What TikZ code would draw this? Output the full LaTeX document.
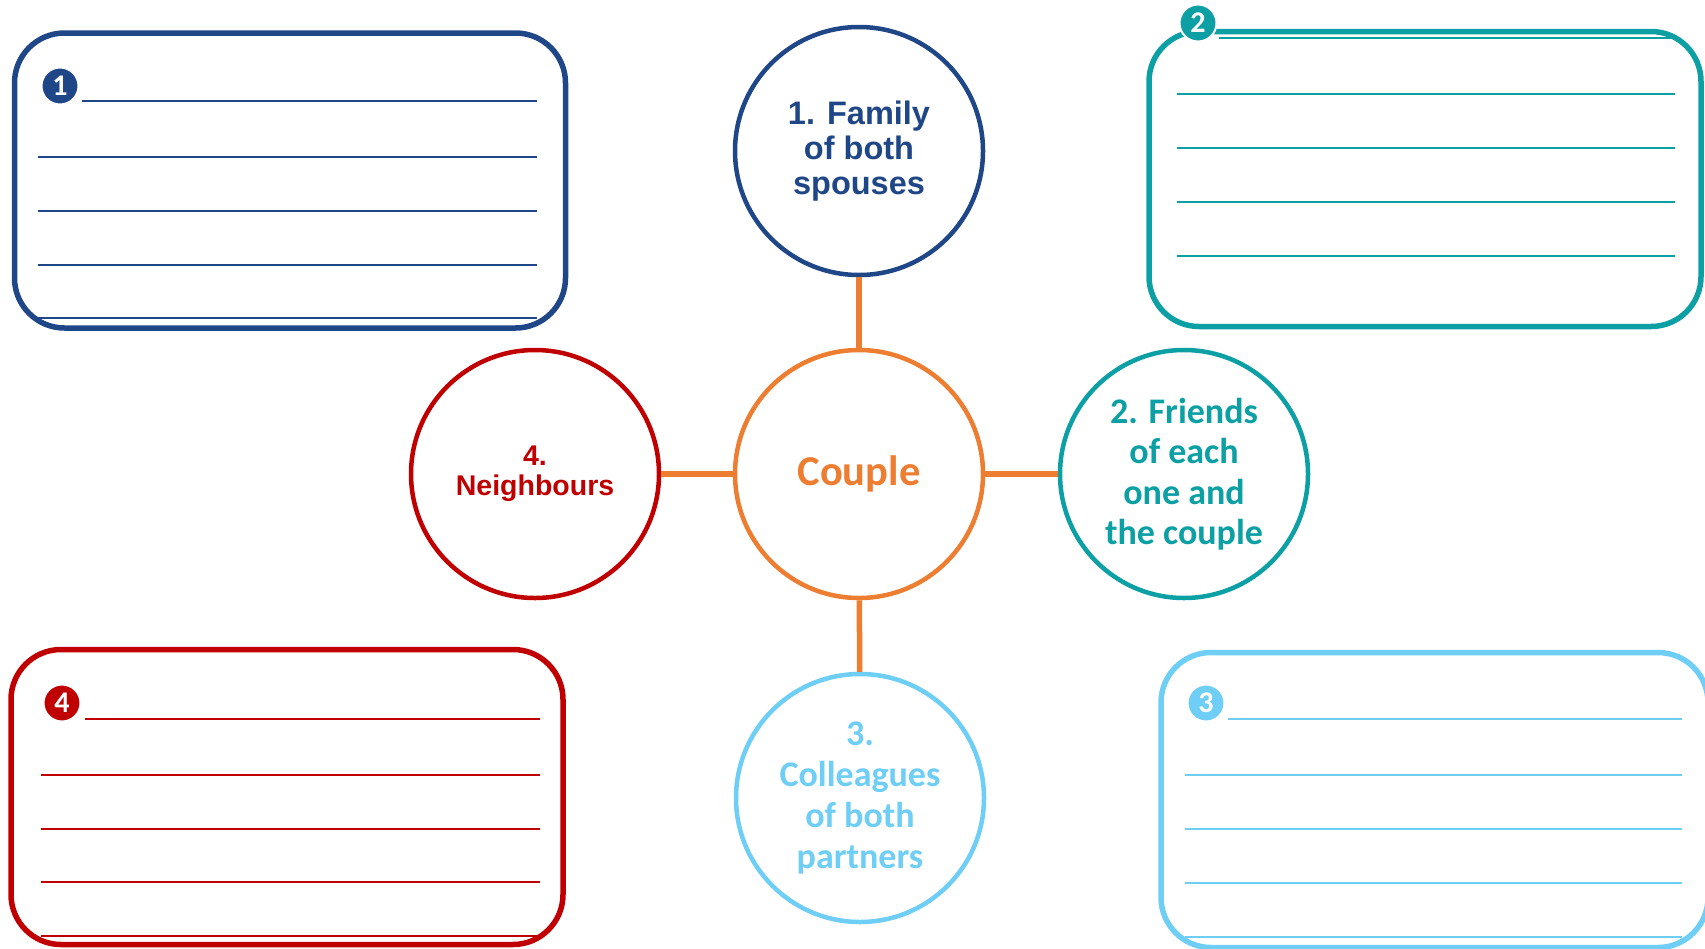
\documentclass[tikz,border=0pt]{standalone}
\usepackage{fontspec}
\setmainfont{Liberation Sans}
\newfontfamily\calfont{Carlito}
\usepackage{tikz}
\usetikzlibrary{positioning,shapes}
\definecolor{navy1}{RGB}{31,71,136}
\definecolor{teal1}{RGB}{12,160,164}
\definecolor{red1}{RGB}{192,0,0}
\definecolor{sky1}{RGB}{110,206,245}
\definecolor{orange1}{RGB}{237,125,49}

\begin{document}
\begin{tikzpicture}
[x=1pt,y=-1pt,
ring/.style ={circle, draw, line width=4.5pt, fill=white,
minimum size=248pt, inner sep=0pt, align=center},
card/.style ={draw, line width=5.5pt, rounded corners=50pt,
minimum height=295pt, inner sep=0pt},
badge/.style={circle, fill, draw=white, line width=2pt, text=white,
minimum size=37pt, inner sep=0pt, font=\calfont\bfseries\fontsize{30}{30}\selectfont},
rule/.style ={line width=2.8pt},
link/.style ={draw=orange1, line width=5.5pt}]
\useasboundingbox (0,0) rectangle (1705,948);
% answer cards
\node [card, draw=navy1, minimum width=551pt]  (c1)  at (290, 180.5)  {};
\node [card, draw=teal1, minimum width=552pt]  (c2)  at (1425, 179)   {};
\node [card, draw=red1,  minimum width=552pt]  (c4)  at (287, 797)    {};
\node [card, draw=sky1,  minimum width=547pt]  (c3)  at (1434.5, 800) {};

\draw [rule, navy1] (82,101) -- (537,101);
\draw [rule, navy1] (38,157) -- (537,157);
\draw [rule, navy1] (38,211) -- (537,211);
\draw [rule, navy1] (38,265) -- (537,265);
\draw [rule, navy1] (38,318) -- (537,318);

\draw [rule, teal1] (1219,38) -- (1675,38);
\draw [rule, teal1] (1177,94) -- (1675,94);
\draw [rule, teal1] (1177,148) -- (1675,148);
\draw [rule, teal1] (1177,202) -- (1675,202);
\draw [rule, teal1] (1177,256) -- (1675,256);

\draw [rule, red1] (85,719) -- (540,719);
\draw [rule, red1] (41,775) -- (540,775);
\draw [rule, red1] (41,829) -- (540,829);
\draw [rule, red1] (41,882) -- (540,882);
\draw [rule, red1] (41,936) -- (540,936);

\draw [rule, sky1] (1228,719) -- (1682,719);
\draw [rule, sky1] (1185,775) -- (1682,775);
\draw [rule, sky1] (1185,829) -- (1682,829);
\draw [rule, sky1] (1185,883) -- (1682,883);
\draw [rule, sky1] (1185,937) -- (1682,937);

\node [badge, fill=navy1]  (b1)  at (60, 86)    {1};
\node [badge, fill=teal1]  (b2)  at (1198, 23)  {2};
\node [badge, fill=red1]   (b4)  at (62, 703)   {4};
\node [badge, fill=sky1]   (b3)  at (1206, 703) {3};

% circles
\node [ring, draw=orange1, text=orange1, font=\calfont\bfseries\fontsize{42.5}{44}\selectfont]
      (cp)  at (859, 474)  {Couple};
\node [ring, draw=navy1, text=navy1, font=\bfseries\fontsize{32.5}{35}\selectfont]
      (fam) at (859, 151)  {1. Family\\of both\\spouses};
\node [ring, draw=red1, text=red1, font=\bfseries\fontsize{28.5}{30}\selectfont]
      (nb)  at (535, 474)  {4.\\Neighbours};
\node [ring, draw=teal1, text=teal1, font=\calfont\bfseries\fontsize{36}{40.5}\selectfont]
      (fr)  at (1184, 474) {2. Friends\\of each\\one and\\the couple};
\node [ring, draw=sky1, text=sky1, font=\calfont\bfseries\fontsize{36}{41}\selectfont]
      (col) at (860, 798)  {3.\\Colleagues\\of both\\partners};

\draw [link] (fam) -- (cp);
\draw [link] (nb) -- (cp);
\draw [link] (cp) -- (fr);
\draw [link] (cp) -- (col);

\end{tikzpicture}
\end{document}
